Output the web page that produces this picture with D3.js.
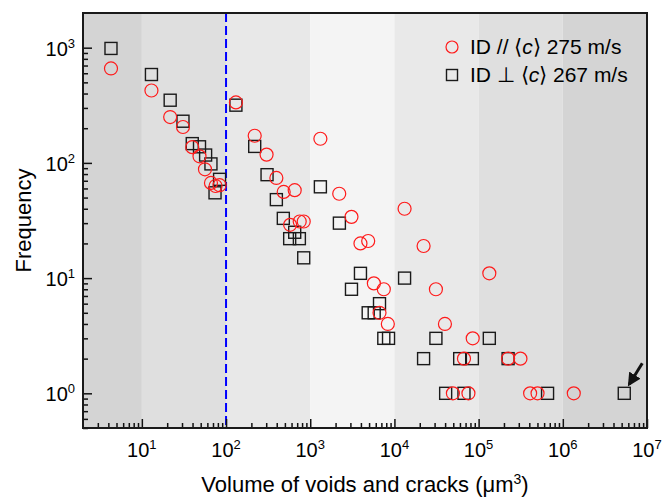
<!DOCTYPE html>
<html>
<head>
<meta charset="utf-8">
<script src="https://cdn.jsdelivr.net/npm/d3@7"></script>
<style>
  body { margin: 0; background: #fff; }
  svg text { font-family: 'Liberation Sans', Arial, sans-serif; fill: #000; }
</style>
</head>
<body>
<div id="chart"></div>
<script>
// Volume bins (um^3) and frequencies, ID parallel to <c>
var volPar = [4.3, 13, 21.7, 30.8, 39.7, 48.4, 56.2, 66.2, 75.1, 83.8,
  131, 219, 303, 396, 484, 577, 654, 750, 837, 1320, 2210, 3090, 3950, 4880,
  5700, 6650, 7480, 8350, 13200, 22200, 31100, 39800, 49500, 67000, 75700,
  85100, 134000, 224000, 314000, 409000, 501000, 1350000]
var freqPar = [660, 425, 250, 205, 137, 114, 88, 67, 63, 64,
  335, 172, 118, 74, 56, 29, 58, 31, 31, 162, 54, 34, 20, 21,
  9, 5, 8, 4, 40, 19, 8, 4, 1, 2, 1,
  3, 11, 2, 2, 1, 1, 1]

// Volume bins (um^3) and frequencies, ID perpendicular to <c>
var volPerp = [4.3, 13, 21.7, 30.8, 39.7, 48.4, 57.2, 66.2, 74, 83.8,
  131, 219, 307, 396, 479, 570, 654, 743, 837, 1320, 2220, 3090, 3950,
  4880, 5750, 6650, 7480, 8510, 13200, 22200, 31100, 40600, 59600, 67000,
  84300, 134000, 224000, 659000, 5370000]
var freqPerp = [985, 585, 350, 230, 147, 138, 117, 98, 55, 72,
  317, 139, 79, 48, 33, 22, 25, 22, 15, 62, 30, 8, 11,
  5, 5, 6, 3, 3, 10, 2, 3, 1, 2, 1,
  2, 3, 2, 1, 1]

// Decade tick values
var xTickVals = [10, 100, 1e3, 1e4, 1e5, 1e6, 1e7]
var yTickVals = [1, 10, 100, 1000]

// Shaded decade bands
var bandEdges = [2, 10, 100, 1e3, 1e4, 1e5, 1e6, 1e7]
var bandColours = ['#d4d4d4', '#dfdfdf', '#e8e8e8', '#f4f4f4', '#e9e9e9', '#dfdfdf', '#d4d4d4']

var legendLabels = ['275 m/s', '267 m/s']
var thresholdVol = 100

// Layout variables
var margin = { top: 13, right: 17, bottom: 69, left: 83 }
var width = 664 - margin.left - margin.right
var height = 497 - margin.top - margin.bottom

var svg = d3.select('#chart').append('svg')
  .attr('width', 664)
  .attr('height', 497)

var g = svg.append('g')
  .attr('transform', 'translate(' + margin.left + ',' + margin.top + ')')

var xScale = d3.scaleLog().domain([2, 1e7]).range([0, width])
var yScale = d3.scaleLog().domain([0.5, 2000]).range([height, 0])

// Background bands
g.selectAll('.band')
  .data(d3.range(bandColours.length))
  .enter().append('rect')
  .attr('class', 'band')
  .attr('x', function (i) { return xScale(bandEdges[i]) })
  .attr('y', 0)
  .attr('width', function (i) { return xScale(bandEdges[i + 1]) - xScale(bandEdges[i]) })
  .attr('height', height)
  .style('fill', function (i) { return bandColours[i] })

// Threshold line
g.append('line')
  .attr('x1', xScale(thresholdVol))
  .attr('x2', xScale(thresholdVol))
  .attr('y1', 0)
  .attr('y2', height)
  .style('stroke', '#0000ff')
  .style('stroke-width', 2)
  .style('stroke-dasharray', '9,4')

// Axes with inward ticks, labels drawn separately
var xAxis = d3.axisBottom(xScale).tickSizeInner(-9).tickSizeOuter(0).tickFormat('')
var yAxis = d3.axisLeft(yScale).tickSizeInner(-9).tickSizeOuter(0).tickFormat('')

var xMinor = []
for (var e = 0; e < 7; e++) {
  for (var m = 2; m < 10; m++) {
    var v = m * Math.pow(10, e)
    if (v > 2 && v < 1e7) xMinor.push(v)
  }
}
var yMinor = []
for (var f = -1; f < 4; f++) {
  for (var k = 2; k < 10; k++) {
    var w = k * Math.pow(10, f)
    if (w >= 0.5 && w < 2000) yMinor.push(w)
  }
}

g.append('g')
  .attr('transform', 'translate(0,' + height + ')')
  .call(xAxis.tickValues(xTickVals))
g.append('g')
  .attr('transform', 'translate(0,' + height + ')')
  .call(d3.axisBottom(xScale).tickValues(xMinor).tickSizeInner(-5).tickSizeOuter(0).tickFormat(''))
g.append('g').call(yAxis.tickValues(yTickVals))
g.append('g')
  .call(d3.axisLeft(yScale).tickValues(yMinor).tickSizeInner(-5).tickSizeOuter(0).tickFormat(''))

g.selectAll('.tick line').style('stroke', '#111').style('stroke-width', 1.5)
g.selectAll('.domain').remove()

// Plot frame
g.append('rect')
  .attr('width', width)
  .attr('height', height)
  .style('fill', 'none')
  .style('stroke', '#1a1a1a')
  .style('stroke-width', 2)

// Tick labels with superscripts
var xLabels = g.selectAll('.x-label')
  .data(xTickVals)
  .enter().append('text')
  .attr('class', 'x-label')
  .attr('x', function (d) { return xScale(d) })
  .attr('y', height + 29)
  .attr('text-anchor', 'middle')
  .style('font-size', '20px')
xLabels.append('tspan').text('10')
xLabels.append('tspan')
  .attr('dy', -8)
  .style('font-size', '13px')
  .text(function (d) { return Math.round(Math.log10(d)) })

var yLabels = g.selectAll('.y-label')
  .data(yTickVals)
  .enter().append('text')
  .attr('class', 'y-label')
  .attr('x', -8)
  .attr('y', function (d) { return yScale(d) + 8 })
  .attr('text-anchor', 'end')
  .style('font-size', '20px')
yLabels.append('tspan').text('10')
yLabels.append('tspan')
  .attr('dy', -8)
  .style('font-size', '13px')
  .text(function (d) { return Math.round(Math.log10(d)) })

// Axis titles
var xTitle = svg.append('text')
  .attr('x', margin.left + width / 2)
  .attr('y', 492)
  .attr('text-anchor', 'middle')
  .style('font-size', '22px')
xTitle.append('tspan').text('Volume of voids and cracks (μm')
xTitle.append('tspan').attr('dy', -8).style('font-size', '14px').text('3')
xTitle.append('tspan').attr('dy', 8).text(')')

svg.append('text')
  .attr('transform', 'translate(31,' + (margin.top + height / 2) + ') rotate(-90)')
  .attr('text-anchor', 'middle')
  .style('font-size', '22px')
  .text('Frequency')

// Data markers
g.selectAll('.sq')
  .data(volPerp)
  .enter().append('rect')
  .attr('class', 'sq')
  .attr('x', function (d) { return xScale(d) - 6 })
  .attr('y', function (d, i) { return yScale(freqPerp[i]) - 6 })
  .attr('width', 12)
  .attr('height', 12)
  .style('fill', 'none')
  .style('stroke', '#1a1a1a')
  .style('stroke-width', 1.4)

g.selectAll('.circ')
  .data(volPar)
  .enter().append('circle')
  .attr('class', 'circ')
  .attr('cx', function (d) { return xScale(d) })
  .attr('cy', function (d, i) { return yScale(freqPar[i]) })
  .attr('r', 6.5)
  .style('fill', 'none')
  .style('stroke', '#ff1a1a')
  .style('stroke-width', 1.2)

// Arrow pointing to the largest void
var last = volPerp.length - 1
var tipX = xScale(volPerp[last]) + 5
var tipY = yScale(freqPerp[last]) - 9
svg.append('defs').append('marker')
  .attr('id', 'head')
  .attr('viewBox', '0 0 10 10')
  .attr('refX', 8)
  .attr('refY', 5)
  .attr('markerWidth', 4.5)
  .attr('markerHeight', 4.5)
  .attr('orient', 'auto')
  .append('path')
  .attr('d', 'M0,0L10,5L0,10z')
  .style('fill', '#111')
g.append('line')
  .attr('x1', tipX + 13)
  .attr('y1', tipY - 21)
  .attr('x2', tipX)
  .attr('y2', tipY)
  .style('stroke', '#111')
  .style('stroke-width', 3)
  .attr('marker-end', 'url(#head)')

// Legend
var legend = svg.append('g').attr('transform', 'translate(452,47)')
legend.append('circle')
  .attr('r', 6)
  .style('fill', 'none')
  .style('stroke', '#ff1a1a')
  .style('stroke-width', 1.2)
legend.append('rect')
  .attr('x', -5.5)
  .attr('y', 28 - 5.5)
  .attr('width', 11)
  .attr('height', 11)
  .style('fill', 'none')
  .style('stroke', '#1a1a1a')
  .style('stroke-width', 1.4)

var l1 = legend.append('text').attr('x', 18).attr('y', 7).style('font-size', '21px')
l1.append('tspan').text('ID // ⟨')
l1.append('tspan').style('font-style', 'italic').text('c')
l1.append('tspan').text('⟩ ' + legendLabels[0])

var l2 = legend.append('text').attr('x', 18).attr('y', 35).style('font-size', '21px')
l2.append('tspan').text('ID ⊥ ⟨')
l2.append('tspan').style('font-style', 'italic').text('c')
l2.append('tspan').text('⟩ ' + legendLabels[1])
</script>
</body>
</html>
